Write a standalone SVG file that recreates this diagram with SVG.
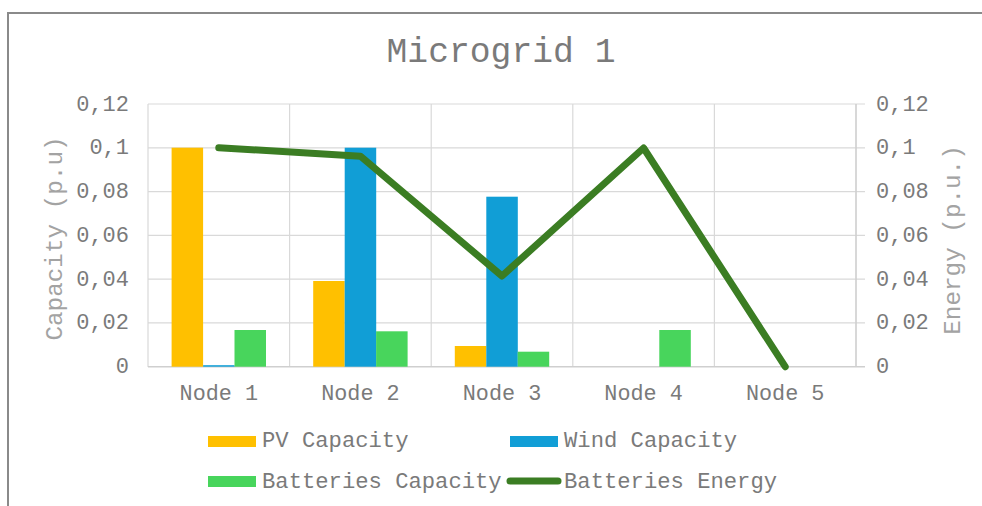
<svg xmlns="http://www.w3.org/2000/svg" width="982" height="506" viewBox="0 0 982 506">
  <style>
    text { font-family: "Liberation Mono", "Courier New", monospace; }
    .title { font-size: 34.7px; fill: #7a7a7a; }
    .tick { font-size: 22px; fill: #7a7a7a; }
    .axt { font-size: 24.3px; fill: #a3a3a3; }
    .cat { font-size: 21.8px; fill: #7a7a7a; text-anchor: middle; }
    .leg { font-size: 22.2px; fill: #7a7a7a; }
    .grid { stroke: #d9d9d9; stroke-width: 1.2; fill: none; }
    .axis { stroke: #cfcfcf; stroke-width: 1.6; fill: none; }
    .pv { fill: #ffc000; }
    .wind { fill: #119ed6; }
    .bat { fill: #48d55c; }
    .energy { stroke: #3b7d23; stroke-width: 7; fill: none; stroke-linecap: round; stroke-linejoin: round; }
  </style>

  <!-- chart frame -->
  <rect x="0" y="0" width="982" height="506" fill="#ffffff"/>
  <path d="M8 506 V13 H982" fill="none" stroke="#8a8a8a" stroke-width="2"/>

  <!-- title -->
  <text class="title" x="501" y="62" text-anchor="middle">Microgrid 1</text>

  <!-- gridlines: value 0..0.12, step 0.02 -->
  <g id="gridlines">
    <path class="grid" d="M148 104 H865 M148 147.8 H865 M148 191.6 H865 M148 235.4 H865 M148 279.1 H865 M148 322.9 H865"/>
    <path class="grid" d="M148 104 V367 M289.6 104 V367 M431.2 104 V367 M572.8 104 V367 M714.4 104 V367"/>
    <path class="axis" d="M148 366.7 H865 M856 104 V367"/>
  </g>

  <!-- left axis -->
  <g id="axis-left" class="tick" text-anchor="end">
    <text x="129" y="110.5">0,12</text>
    <text x="129" y="154.3">0,1</text>
    <text x="129" y="198.1">0,08</text>
    <text x="129" y="241.9">0,06</text>
    <text x="129" y="285.6">0,04</text>
    <text x="129" y="329.4">0,02</text>
    <text x="129" y="373.2">0</text>
  </g>
  <text class="axt" transform="translate(61.5 238.5) rotate(-90)" text-anchor="middle">Capacity (p.u)</text>

  <!-- right axis -->
  <g id="axis-right" class="tick">
    <text x="876" y="110.5">0,12</text>
    <text x="876" y="154.3">0,1</text>
    <text x="876" y="198.1">0,08</text>
    <text x="876" y="241.9">0,06</text>
    <text x="876" y="285.6">0,04</text>
    <text x="876" y="329.4">0,02</text>
    <text x="876" y="373.2">0</text>
  </g>
  <text class="axt" transform="translate(960 240) rotate(-90)" text-anchor="middle">Energy (p.u.)</text>

  <!-- categories -->
  <g id="categories">
    <text class="cat" x="218.8" y="400">Node 1</text>
    <text class="cat" x="360.4" y="400">Node 2</text>
    <text class="cat" x="502" y="400">Node 3</text>
    <text class="cat" x="643.6" y="400">Node 4</text>
    <text class="cat" x="785.2" y="400">Node 5</text>
  </g>

  <!-- capacity bars -->
  <g id="series-pv" class="pv">
    <rect x="171.6" y="147.7" width="31.5" height="219"/>
    <rect x="313.2" y="281" width="31.5" height="85.7"/>
    <rect x="454.8" y="346" width="31.5" height="20.7"/>
  </g>
  <g id="series-wind" class="wind">
    <rect x="203.1" y="365.2" width="31.5" height="1.5"/>
    <rect x="344.7" y="147.7" width="31.5" height="219"/>
    <rect x="486.3" y="196.7" width="31.5" height="170"/>
  </g>
  <g id="series-batteries" class="bat">
    <rect x="234.5" y="330" width="31.5" height="36.7"/>
    <rect x="376.1" y="331.3" width="31.5" height="35.4"/>
    <rect x="517.7" y="351.7" width="31.5" height="15"/>
    <rect x="659.3" y="330" width="31.5" height="36.7"/>
  </g>

  <!-- battery energy line (secondary axis) -->
  <g id="connectors">
    <polyline class="energy" points="218.8,147.7 360.4,156.2 502,276 643.6,148 785.2,366.7"/>
  </g>

  <!-- legend -->
  <g id="legend">
    <rect class="pv" x="208" y="436" width="48" height="11"/>
    <text class="leg" x="262" y="447">PV Capacity</text>
    <rect class="wind" x="510" y="436" width="48" height="11"/>
    <text class="leg" x="564" y="447">Wind Capacity</text>
    <rect class="bat" x="208" y="476" width="48" height="11"/>
    <text class="leg" x="262" y="488">Batteries Capacity</text>
    <line class="energy" x1="510" y1="481" x2="558" y2="481" stroke-width="8"/>
    <text class="leg" x="564" y="488">Batteries Energy</text>
  </g>
</svg>
